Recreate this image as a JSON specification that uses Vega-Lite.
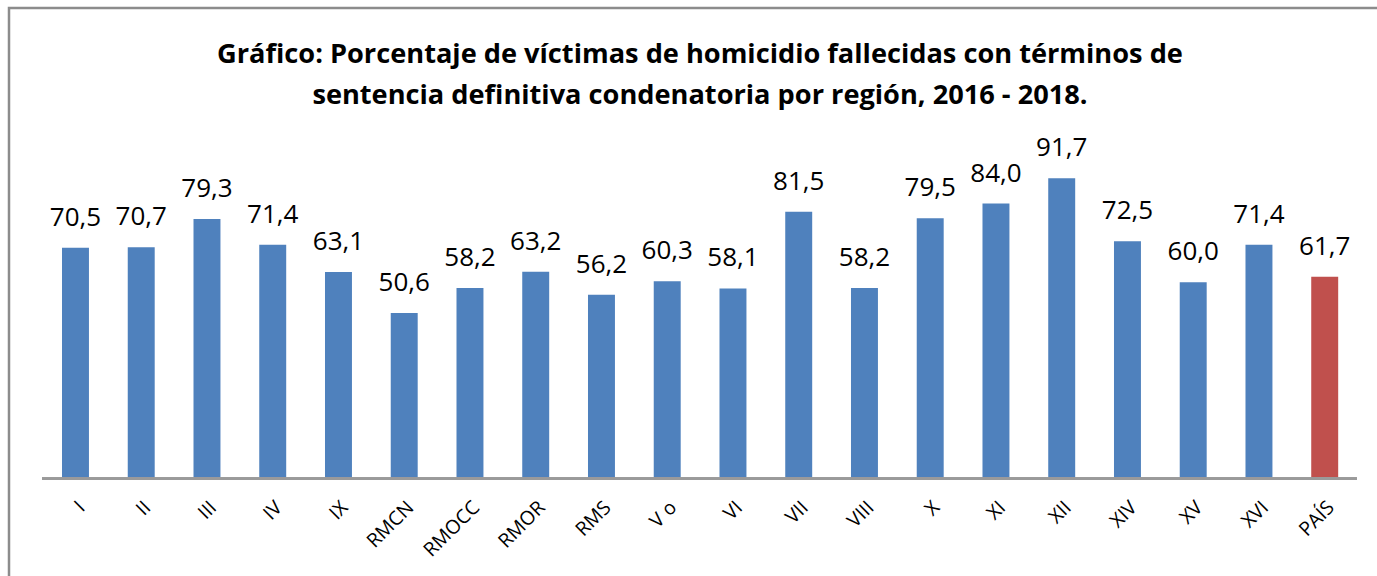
{
  "$schema": "https://vega.github.io/schema/vega-lite/v6.json",
  "width": 1371,
  "height": 571,
  "autosize": {"type": "none"},
  "padding": {"left": 9, "top": 8, "right": 0, "bottom": 0},
  "background": "white",
  "title": {
    "text": ["Gráfico: Porcentaje de víctimas de homicidio fallecidas con términos de", "sentencia definitiva condenatoria por región, 2016 - 2018."],
    "font": "Open Sans",
    "fontWeight": "bold",
    "fontSize": 27.2,
    "lineHeight": 41,
    "color": "#000000",
    "anchor": "start",
    "frame": "group",
    "dx": 691,
    "align": "center",
    "offset": -102
  },
  "config": {
    "view": {"stroke": "#8c8c8c", "strokeWidth": 2.5},
    "locale": {"number": {"decimal": ",", "thousands": ".", "grouping": [3], "currency": ["", ""]}}
  },
  "data": {
    "values": [
      {"region": "I", "valor": 70.5, "nivel": "Región"},
      {"region": "II", "valor": 70.7, "nivel": "Región"},
      {"region": "III", "valor": 79.3, "nivel": "Región"},
      {"region": "IV", "valor": 71.4, "nivel": "Región"},
      {"region": "IX", "valor": 63.1, "nivel": "Región"},
      {"region": "RMCN", "valor": 50.6, "nivel": "Región"},
      {"region": "RMOCC", "valor": 58.2, "nivel": "Región"},
      {"region": "RMOR", "valor": 63.2, "nivel": "Región"},
      {"region": "RMS", "valor": 56.2, "nivel": "Región"},
      {"region": "V o", "valor": 60.3, "nivel": "Región"},
      {"region": "VI", "valor": 58.1, "nivel": "Región"},
      {"region": "VII", "valor": 81.5, "nivel": "Región"},
      {"region": "VIII", "valor": 58.2, "nivel": "Región"},
      {"region": "X", "valor": 79.5, "nivel": "Región"},
      {"region": "XI", "valor": 84.0, "nivel": "Región"},
      {"region": "XII", "valor": 91.7, "nivel": "Región"},
      {"region": "XIV", "valor": 72.5, "nivel": "Región"},
      {"region": "XV", "valor": 60.0, "nivel": "Región"},
      {"region": "XVI", "valor": 71.4, "nivel": "Región"},
      {"region": "PAÍS", "valor": 61.7, "nivel": "País"}
    ]
  },
  "encoding": {
    "x": {
      "field": "region",
      "type": "nominal",
      "sort": null,
      "scale": {"paddingInner": 0.59, "paddingOuter": 0.721, "align": 0.559},
      "axis": {
        "title": null,
        "labelAngle": -45,
        "labelFont": "Open Sans",
        "labelFontSize": 19.5,
        "labelColor": "#000000",
        "labelPadding": 19,
        "ticks": false,
        "domain": false,
        "offset": -100.3
      }
    },
    "y": {
      "field": "valor",
      "type": "quantitative",
      "scale": {"domain": [-30.6, 143.7], "nice": false, "zero": false},
      "axis": null
    }
  },
  "layer": [
    {
      "mark": {"type": "bar"},
      "encoding": {
        "color": {
          "field": "nivel",
          "type": "nominal",
          "scale": {"domain": ["Región", "País"], "range": ["#4F81BD", "#C0504D"]},
          "legend": null
        }
      }
    },
    {
      "mark": {"type": "text", "font": "Open Sans", "fontSize": 26, "color": "#000000", "baseline": "alphabetic", "dy": -22},
      "encoding": {
        "text": {"field": "valor", "type": "quantitative", "format": ".1f"}
      }
    },
    {
      "mark": {"type": "rule", "color": "#9a9a9a", "strokeWidth": 2},
      "encoding": {
        "x": {"datum": "I", "type": "nominal", "bandPosition": -0.742},
        "x2": {"datum": "PAÍS", "bandPosition": 1.68},
        "y": {"datum": 0, "type": "quantitative"}
      }
    }
  ]
}
